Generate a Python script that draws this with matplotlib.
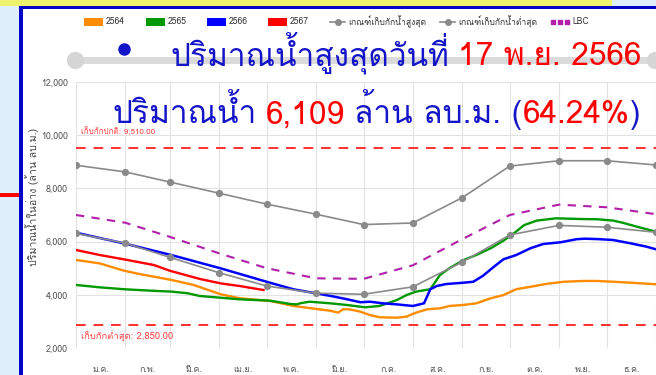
import matplotlib
matplotlib.use('Agg')
import matplotlib.pyplot as plt
from matplotlib.lines import Line2D
from matplotlib.patches import Rectangle
import numpy as np

W, H = 656, 375
TITLE_FONT = ['Loma', 'Noto Sans Thai Looped', 'DejaVu Sans']
SMALL_FONT = ['Liberation Sans Narrow', 'Loma', 'DejaVu Sans']

# Month boundaries (day of year) and Thai month abbreviations
month_start = [0, 31, 59, 90, 120, 151, 181, 212, 243, 273, 304, 334, 365]
month_names = ['ม.ค.', 'ก.พ.', 'มี.ค.', 'เม.ย.', 'พ.ค.', 'มิ.ย.',
               'ก.ค.', 'ส.ค.', 'ก.ย.', 'ต.ค.', 'พ.ย.', 'ธ.ค.']

# Rule curves, sampled on the 1st of each month
rule_upper = [8870, 8620, 8240, 7820, 7410, 7030, 6640, 6700, 7650, 8840, 9040, 9040, 8880]
rule_lower = [6310, 5940, 5410, 4830, 4330, 4060, 4020, 4300, 5230, 6250, 6610, 6540, 6350]
lbc = [7000, 6710, 6180, 5560, 5000, 4620, 4600, 5110, 6090, 7000, 7390, 7290, 7030]

normal_storage = 9510.00
min_storage = 2850.00

# peak of 2566 (17 Nov)
peak_date = '17 พ.ย. 2566'
peak_volume = 6109
peak_percent = 64.24

# Storage by year (day of year, million m3)
day_2564 = [0, 15, 30, 40, 60, 74, 91, 103, 122, 137, 160, 165, 168, 172, 179, 185, 191, 202,
            208, 214, 221, 229, 235, 244, 252, 261, 269, 277, 286, 296, 307, 319, 328, 338, 349, 365]
vol_2564 = [5310, 5180, 4910, 4780, 4560, 4370, 4020, 3870, 3770, 3580, 3400, 3330, 3455, 3455,
            3365, 3240, 3155, 3140, 3180, 3330, 3455, 3490, 3580, 3620, 3680, 3870, 3990, 4210,
            4300, 4410, 4490, 4520, 4520, 4490, 4455, 4395]

day_2565 = [0, 15, 30, 47, 60, 70, 78, 91, 103, 122, 135, 139, 141, 147, 160, 170, 182, 191,
            202, 208, 214, 223, 229, 235, 244, 252, 261, 269, 275, 282, 290, 302, 317, 328, 338,
            344, 353, 365]
vol_2565 = [4370, 4280, 4210, 4155, 4120, 4060, 3955, 3890, 3830, 3780, 3655, 3640, 3680, 3740,
            3680, 3620, 3530, 3580, 3805, 3990, 4120, 4210, 4740, 5000, 5310, 5500, 5750, 6035,
            6285, 6620, 6790, 6875, 6850, 6840, 6790, 6710, 6560, 6370]

day_2566 = [0, 30, 60, 91, 122, 137, 160, 170, 179, 185, 193, 202, 212, 219, 223, 227, 233, 244,
            250, 256, 263, 269, 277, 286, 294, 305, 315, 320, 328, 338, 349, 359, 365]
vol_2566 = [6335, 5935, 5495, 4995, 4455, 4205, 3960, 3840, 3720, 3740, 3680, 3640, 3580, 3680,
            4210, 4330, 4405, 4455, 4490, 4710, 5055, 5335, 5495, 5750, 5910, 5975, 6090,
            peak_volume, 6095, 6060, 5935, 5810, 5710]

day_2567 = [0, 15, 30, 49, 59, 78, 91, 103, 118]
vol_2567 = [5685, 5495, 5335, 5120, 4905, 4595, 4430, 4330, 4180]

BLUE_T = '#1414c8'
RED_T = '#ff0000'


def px(x, y):
    return x / W, 1 - y / H


fig = plt.figure(figsize=(W / 100, H / 100), dpi=100)
fig.patch.set_facecolor('#deeefb')

# framing: yellow strip, white panel, blue border, red pointer
fig.add_artist(Rectangle(px(0, 6), 612 / W, 6 / H, transform=fig.transFigure,
                         facecolor='#eef26c', edgecolor='none', zorder=0))
fig.add_artist(Rectangle(px(22, 375), (W - 22) / W, (375 - 8) / H, transform=fig.transFigure,
                         facecolor='white', edgecolor='none', zorder=0.5))
fig.add_artist(Rectangle(px(19, 375), 3.5 / W, (375 - 6) / H, transform=fig.transFigure,
                         facecolor='#0000c8', edgecolor='none', zorder=1))
fig.add_artist(Rectangle(px(19, 8.5), (W - 19) / W, 2.5 / H, transform=fig.transFigure,
                         facecolor='#0000c8', edgecolor='none', zorder=1))
fig.add_artist(Rectangle(px(0, 197), 19 / W, 4 / H, transform=fig.transFigure,
                         facecolor='#ff0000', edgecolor='none', zorder=1))

# range-selector bar
fig.add_artist(Line2D([75 / W, 1], [1 - 60 / H] * 2, transform=fig.transFigure,
                      color='#dadada', lw=5, solid_capstyle='butt', zorder=1))
fig.add_artist(Line2D([75 / W, 655 / W], [1 - 60 / H] * 2, transform=fig.transFigure,
                      color='#d6d6d6', lw=0, marker='o', ms=11.5, zorder=1))

# main axes
ax = fig.add_axes([76 / W, 1 - 348 / H, 580 / W, 266 / H])
ax.set_zorder(2)
ax.set_facecolor('white')
ax.set_xlim(0, 365)
ax.set_ylim(2000, 12000)

ax.set_yticks(np.arange(2000, 12001, 2000))
ax.set_yticklabels([f'{v:,}' for v in range(2000, 12001, 2000)])
ax.set_xticks(month_start, minor=True)
ax.set_xticks([(a + b) / 2 for a, b in zip(month_start[:-1], month_start[1:])])
ax.set_xticklabels(month_names)
ax.grid(True, axis='y', color='#e2e2e2', lw=0.8)
ax.grid(True, axis='x', which='minor', color='#e2e2e2', lw=0.8)
ax.tick_params(axis='both', which='both', length=0, colors='#555555', labelsize=6.4)
ax.tick_params(axis='y', pad=6)
ax.tick_params(axis='x', pad=12)
for lab in ax.get_xticklabels() + ax.get_yticklabels():
    lab.set_family(SMALL_FONT)
for s in ax.spines.values():
    s.set_visible(False)

# storage lines
ax.plot(day_2564, vol_2564, color='#ff8c00', lw=1.7, zorder=3)
ax.plot(day_2565, vol_2565, color='#009900', lw=1.7, zorder=3)
ax.plot(day_2566, vol_2566, color='#0000ff', lw=1.8, zorder=3)
ax.plot(day_2567, vol_2567, color='#ff0000', lw=1.7, zorder=3)

# rule curves and limits
ax.plot(month_start, lbc, color='#b020a8', lw=1.5, ls=(0, (4, 3.5)), zorder=2)
ax.plot(month_start, rule_upper, color='#8a8a8a', lw=1.2, marker='o', ms=4.2, zorder=4)
ax.plot(month_start, rule_lower, color='#8a8a8a', lw=1.2, marker='o', ms=4.2, zorder=4)
ax.axhline(normal_storage, color='#ff3030', lw=1.4, ls=(0, (5, 4)), zorder=2)
ax.axhline(min_storage, color='#ff3030', lw=1.4, ls=(0, (5, 4)), zorder=2)
ax.annotate(f'เก็บกักปกติ: {normal_storage:,.2f}', xy=(0, normal_storage), xytext=(5, 12),
            textcoords='offset pixels', color='#ff4040', fontsize=5.8, family=SMALL_FONT,
            va='bottom', ha='left')
ax.annotate(f'เก็บกักต่ำสุด: {min_storage:,.2f}', xy=(0, min_storage), xytext=(5, -5),
            textcoords='offset pixels', color='#ff4040', fontsize=6.8, family=SMALL_FONT,
            va='top', ha='left')

fig.text(*px(32, 197), 'ปริมาณน้ำในอ่าง (ล้าน ลบ.ม.)', rotation=90, ha='center', va='center',
         fontsize=7.6, color='#444444', family=SMALL_FONT, zorder=3)

# legend row
leg_y = 22
legend_text_kw = dict(fontsize=6.2, color='#333333', family=SMALL_FONT, va='center', ha='left', zorder=3)
for x0, col, lab in [(84, '#ff8c00', '2564'), (146, '#009900', '2565'),
                     (207, '#0000ff', '2566'), (268, '#ff0000', '2567')]:
    fig.add_artist(Rectangle(px(x0, leg_y + 3.5), 19 / W, 7 / H, transform=fig.transFigure,
                             facecolor=col, edgecolor='none', zorder=3))
    fig.text(*px(x0 + 22, leg_y), lab, **legend_text_kw)
for x0, lab in [(330, 'เกณฑ์เก็บกักน้ำสูงสุด'), (440, 'เกณฑ์เก็บกักน้ำต่ำสุด')]:
    fig.add_artist(Line2D([x0 / W, (x0 + 15) / W], [1 - leg_y / H] * 2, transform=fig.transFigure,
                          color='#8a8a8a', lw=1.2, zorder=3))
    fig.add_artist(Line2D([(x0 + 7.5) / W], [1 - leg_y / H], transform=fig.transFigure,
                          color='#8a8a8a', marker='o', ms=4, lw=0, zorder=3))
    fig.text(*px(x0 + 18, leg_y), lab, **legend_text_kw)
fig.add_artist(Line2D([553 / W, 560 / W, 567 / W], [1 - leg_y / H] * 3, transform=fig.transFigure,
                      color='#b020a8', marker='s', ms=2.6, lw=0, zorder=3))
fig.text(*px(572, leg_y), 'LBC', **legend_text_kw)

# headline, two lines of mixed-colour text
renderer = fig.canvas.get_renderer()


def draw_parts(x0, y_base, parts, size, gap, draw=True):
    x = x0
    for s, c in parts:
        if s == ' ':
            x += gap
            continue
        t = fig.text(*px(x, y_base), s, color=c, fontsize=size, family=TITLE_FONT,
                     va='baseline', ha='left', zorder=6)
        x += t.get_window_extent(renderer).width
        if not draw:
            t.remove()
    return x


line1 = [('ปริมาณน้ำสูงสุดวันที่', BLUE_T), (' ', None), (peak_date, RED_T)]
line2 = [('ปริมาณน้ำ', BLUE_T), (' ', None), (f'{peak_volume:,}', RED_T), (' ', None),
         ('ล้าน ลบ.ม. (', BLUE_T), (f'{peak_percent:.2f}%', RED_T), (')', BLUE_T)]

# scale the headline so the second line runs from x=113 to x=640
base = 20
w2 = draw_parts(0, 0, line2, base, base * 0.4, draw=False)
size = base * 527 / w2

fig.add_artist(Line2D([124 / W], [1 - 49 / H], transform=fig.transFigure, color=BLUE_T,
                      marker='o', ms=8, lw=0, zorder=6))
draw_parts(170, 65, line1, size, size * 0.4)
draw_parts(113, 123, line2, size, size * 0.4)

fig.savefig('out.png', dpi=100)
